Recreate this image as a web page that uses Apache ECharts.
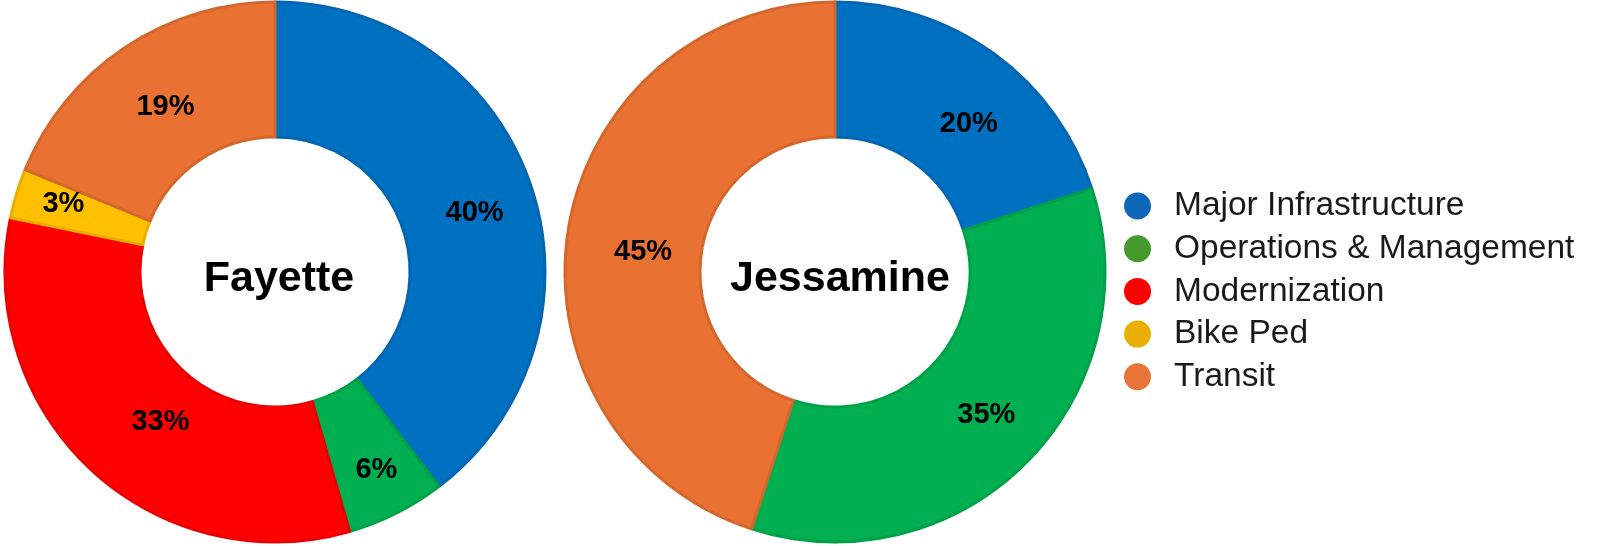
<!DOCTYPE html>
<html>
<head>
<meta charset="utf-8">
<script src="https://cdn.jsdelivr.net/npm/echarts@6/dist/echarts.min.js"></script>
<style>
html,body{margin:0;padding:0;background:#fff;}
#c{width:1597px;height:546px;}
</style>
</head>
<body>
<div id="c"></div>
<script>
const categories = ['Major Infrastructure', 'Operations & Management', 'Modernization', 'Bike Ped', 'Transit'];
const fayetteNames = ['Major Infrastructure', 'Operations & Management', 'Modernization', 'Bike Ped', 'Transit'];
const fayetteValues = [40, 6, 33, 3, 19];
const jessamineNames = ['Major Infrastructure', 'Operations & Management', 'Transit'];
const jessamineValues = [20, 35, 45];
const countyTitles = ['Fayette', 'Jessamine'];

const fillColors = {
  'Major Infrastructure': '#0070C0',
  'Operations & Management': '#00B050',
  'Modernization': '#FF0000',
  'Bike Ped': '#FFC000',
  'Transit': '#E97132'
};
const borderColors = {
  'Major Infrastructure': '#0466B2',
  'Operations & Management': '#00A148',
  'Modernization': '#EC0000',
  'Bike Ped': '#E9AE00',
  'Transit': '#D4672C'
};
const legendColors = {
  'Major Infrastructure': '#0F67B9',
  'Operations & Management': '#459A2E',
  'Modernization': '#FF0000',
  'Bike Ped': '#E9B003',
  'Transit': '#E87438'
};
// small label nudges (px) to mimic the original label placement
const fayetteLabelNudge = [[5, 7], [9, 14], [25, -1], [-15, -8], [5, 6]];
const jessamineLabelNudge = [[13, 18], [6, -2], [11, 12]];

function buildData(names, values, nudges) {
  return names.map((n, i) => ({
    name: n,
    value: values[i],
    itemStyle: { color: fillColors[n], borderColor: borderColors[n], borderWidth: 3 },
    label: { offset: nudges[i] }
  }));
}

const labelStyle = {
  show: true,
  position: 'inside',
  formatter: '{c}%',
  color: '#000',
  fontFamily: 'Liberation Sans, Arial, sans-serif',
  fontWeight: 'bold',
  fontSize: 29
};
const titleStyle = { fontFamily: 'Liberation Sans, Arial, sans-serif', fontWeight: 'bold', fontSize: 43, color: '#000' };

const chart = echarts.init(document.getElementById('c'), null, { renderer: 'canvas' });
chart.setOption({
  animation: false,
  backgroundColor: '#fff',
  title: [
    { text: countyTitles[0], left: 274, top: 274, textAlign: 'center', textVerticalAlign: 'middle', textStyle: titleStyle },
    { text: countyTitles[1], left: 835, top: 274, textAlign: 'center', textVerticalAlign: 'middle', textStyle: titleStyle }
  ],
  legend: {
    orient: 'vertical',
    left: 1119,
    top: 184,
    icon: 'circle',
    itemWidth: 27,
    itemHeight: 27,
    itemGap: 8.7,
    selectedMode: false,
    data: categories.map(n => ({ name: n, itemStyle: { color: legendColors[n], borderWidth: 0 } })),
    textStyle: {
      fontFamily: 'Liberation Sans, Arial, sans-serif',
      fontSize: 33.5,
      color: '#1a1a1a',
      padding: [0, 0, 0, 18]
    }
  },
  series: [
    {
      type: 'pie',
      center: [275, 272],
      radius: [135, 270],
      startAngle: 90,
      clockwise: true,
      avoidLabelOverlap: false,
      label: labelStyle,
      labelLine: { show: false },
      emphasis: { disabled: true },
      data: buildData(fayetteNames, fayetteValues, fayetteLabelNudge)
    },
    {
      type: 'pie',
      center: [835, 272],
      radius: [135, 270],
      startAngle: 90,
      clockwise: true,
      avoidLabelOverlap: false,
      label: labelStyle,
      labelLine: { show: false },
      emphasis: { disabled: true },
      data: buildData(jessamineNames, jessamineValues, jessamineLabelNudge)
    }
  ]
});
</script>
</body>
</html>
